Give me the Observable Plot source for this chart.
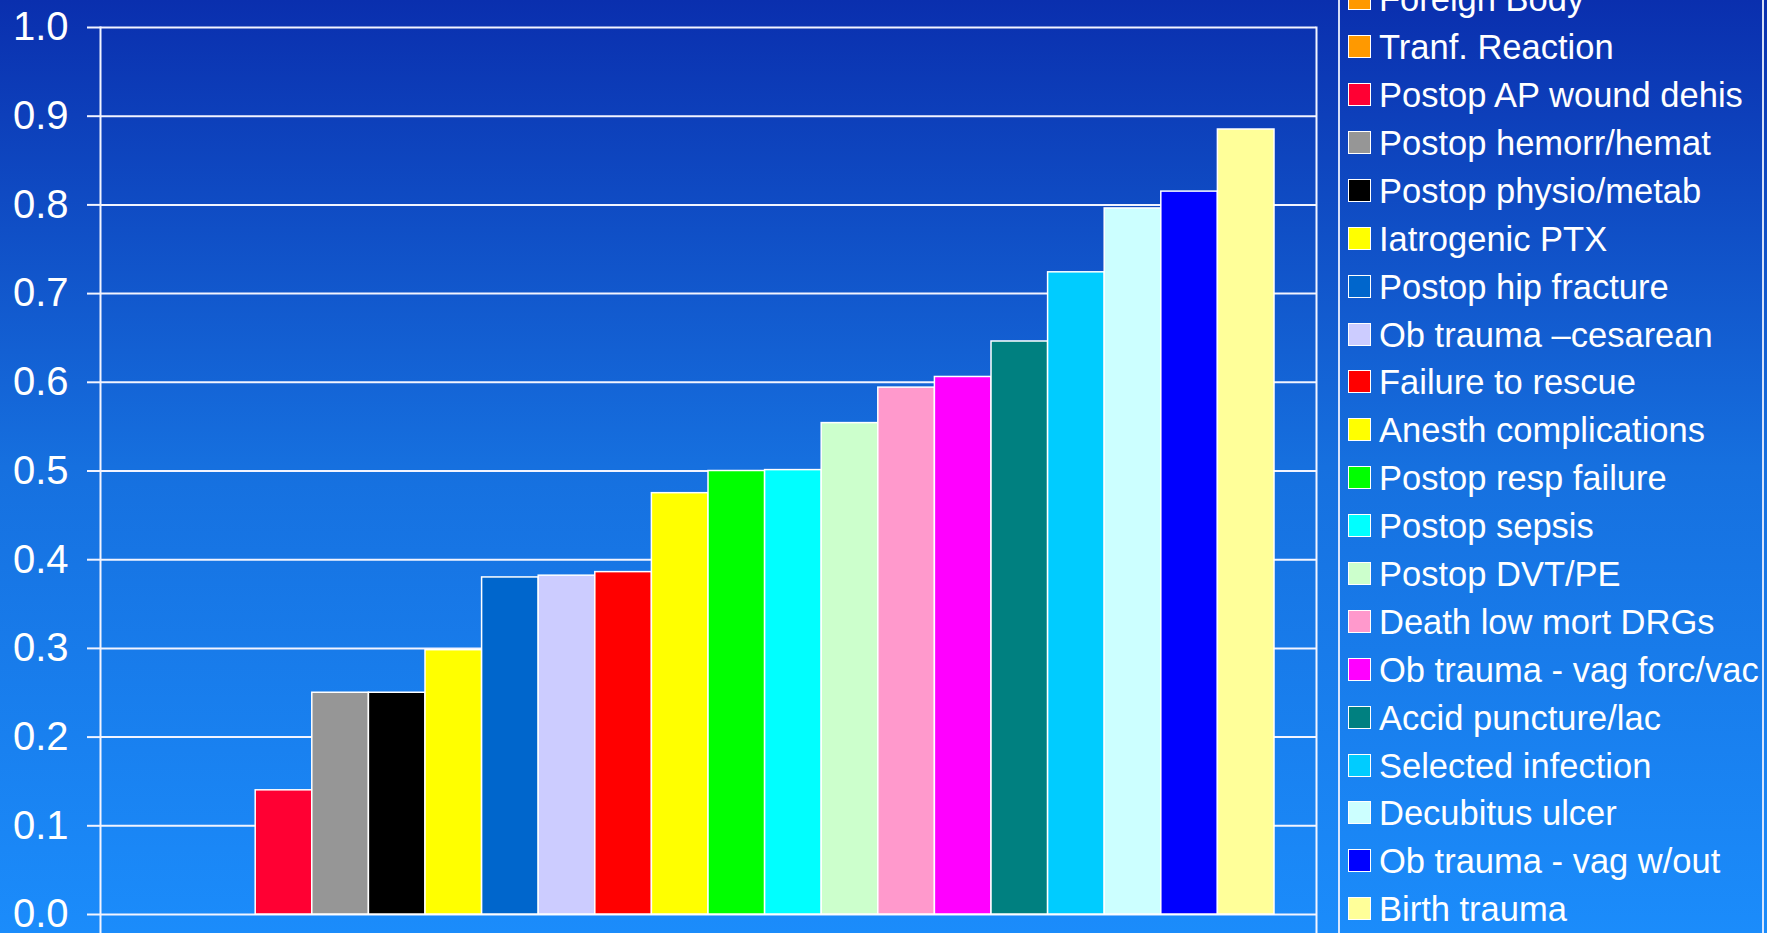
<!DOCTYPE html>
<html>
<head>
<meta charset="utf-8">
<script src="https://cdn.jsdelivr.net/npm/d3@7"></script>
<script src="https://cdn.jsdelivr.net/npm/@observablehq/plot@0.6"></script>
<style>
  html, body { margin: 0; padding: 0; overflow: hidden; }
  #wrap {
    position: relative; width: 1767px; height: 933px; overflow: hidden;
    background: linear-gradient(to bottom, #0a2fae 0%, #1670df 50%, #1b8cfb 100%);
    font-family: "Liberation Sans", Arial, sans-serif;
  }
  #legend {
    position: absolute; left: 1338px; top: -30px; width: 426px; height: 1000px;
    border: 2px solid rgba(235,240,255,0.9); box-sizing: border-box;
    padding: 4.3px 0 0 8px; color: #fff;
  }
  .row { height: 47.9px; line-height: 47.9px; font-size: 34.5px; white-space: nowrap; }
  .sw {
    display: inline-block; width: 23px; height: 23px; box-sizing: border-box;
    border: 1.5px solid #fff; margin: 0 8px 1px 0; vertical-align: baseline;
  }
</style>
</head>
<body>
<div id="wrap"></div>
<script>
const categories = [
  "Foreign Body", "Tranf. Reaction", "Postop AP wound dehis", "Postop hemorr/hemat",
  "Postop physio/metab", "Iatrogenic PTX", "Postop hip fracture", "Ob trauma \u2013cesarean",
  "Failure to rescue", "Anesth complications", "Postop resp failure", "Postop sepsis",
  "Postop DVT/PE", "Death low mort DRGs", "Ob trauma - vag forc/vac", "Accid puncture/lac",
  "Selected infection", "Decubitus ulcer", "Ob trauma - vag w/out", "Birth trauma"
];
const values = [0, 0, 0.14, 0.25, 0.25, 0.298, 0.38, 0.382, 0.386, 0.475, 0.5, 0.501,
  0.554, 0.594, 0.606, 0.646, 0.724, 0.796, 0.815, 0.885];
const colors = ["#ff9900", "#ff9900", "#ff0033", "#969696", "#000000", "#ffff00", "#0066cc",
  "#ccccff", "#ff0000", "#ffff00", "#00ff00", "#00ffff", "#ccffcc", "#ff99cc", "#ff00ff",
  "#008080", "#00ccff", "#ccffff", "#0000ff", "#ffff99"];
const yTicks = [0, 0.1, 0.2, 0.3, 0.4, 0.5, 0.6, 0.7, 0.8, 0.9, 1.0];

const data = categories.map((c, i) => ({category: c, value: values[i]}));

const plot = Plot.plot({
  width: 1767,
  height: 933,
  marginLeft: 100,
  marginRight: 451,
  marginTop: 27,
  marginBottom: 19,
  style: {background: "transparent", color: "#fff", fontFamily: "'Liberation Sans', Arial, sans-serif"},
  x: {domain: categories, paddingInner: 0, paddingOuter: 0.742, round: false, axis: null},
  y: {domain: [0, 1], label: null},
  color: {domain: categories, range: colors},
  marks: [
    Plot.gridY(yTicks, {stroke: "#f2f4ff", strokeOpacity: 1, strokeWidth: 2}),
    Plot.axisY(yTicks, {
      label: null, tickSize: 13, tickPadding: 19, fontSize: 40, tickFormat: d3.format(".1f"),
      stroke: "#f2f4ff", strokeWidth: 2, strokeOpacity: 1, fill: "#fff"
    }),
    Plot.frame({anchor: "left", insetBottom: -19, stroke: "#f2f4ff", strokeWidth: 2}),
    Plot.frame({anchor: "right", insetBottom: -19, stroke: "#f2f4ff", strokeWidth: 2}),
    Plot.barY(data, {x: "category", y: "value", fill: "category", stroke: "#fff", strokeWidth: 1.5, inset: 0})
  ]
});

const wrap = document.getElementById("wrap");
wrap.appendChild(plot);

const legend = document.createElement("div");
legend.id = "legend";
categories.forEach((c, i) => {
  const row = document.createElement("div");
  row.className = "row";
  const sw = document.createElement("span");
  sw.className = "sw";
  sw.style.background = colors[i];
  row.appendChild(sw);
  row.appendChild(document.createTextNode(c));
  legend.appendChild(row);
});
wrap.appendChild(legend);
</script>
</body>
</html>
